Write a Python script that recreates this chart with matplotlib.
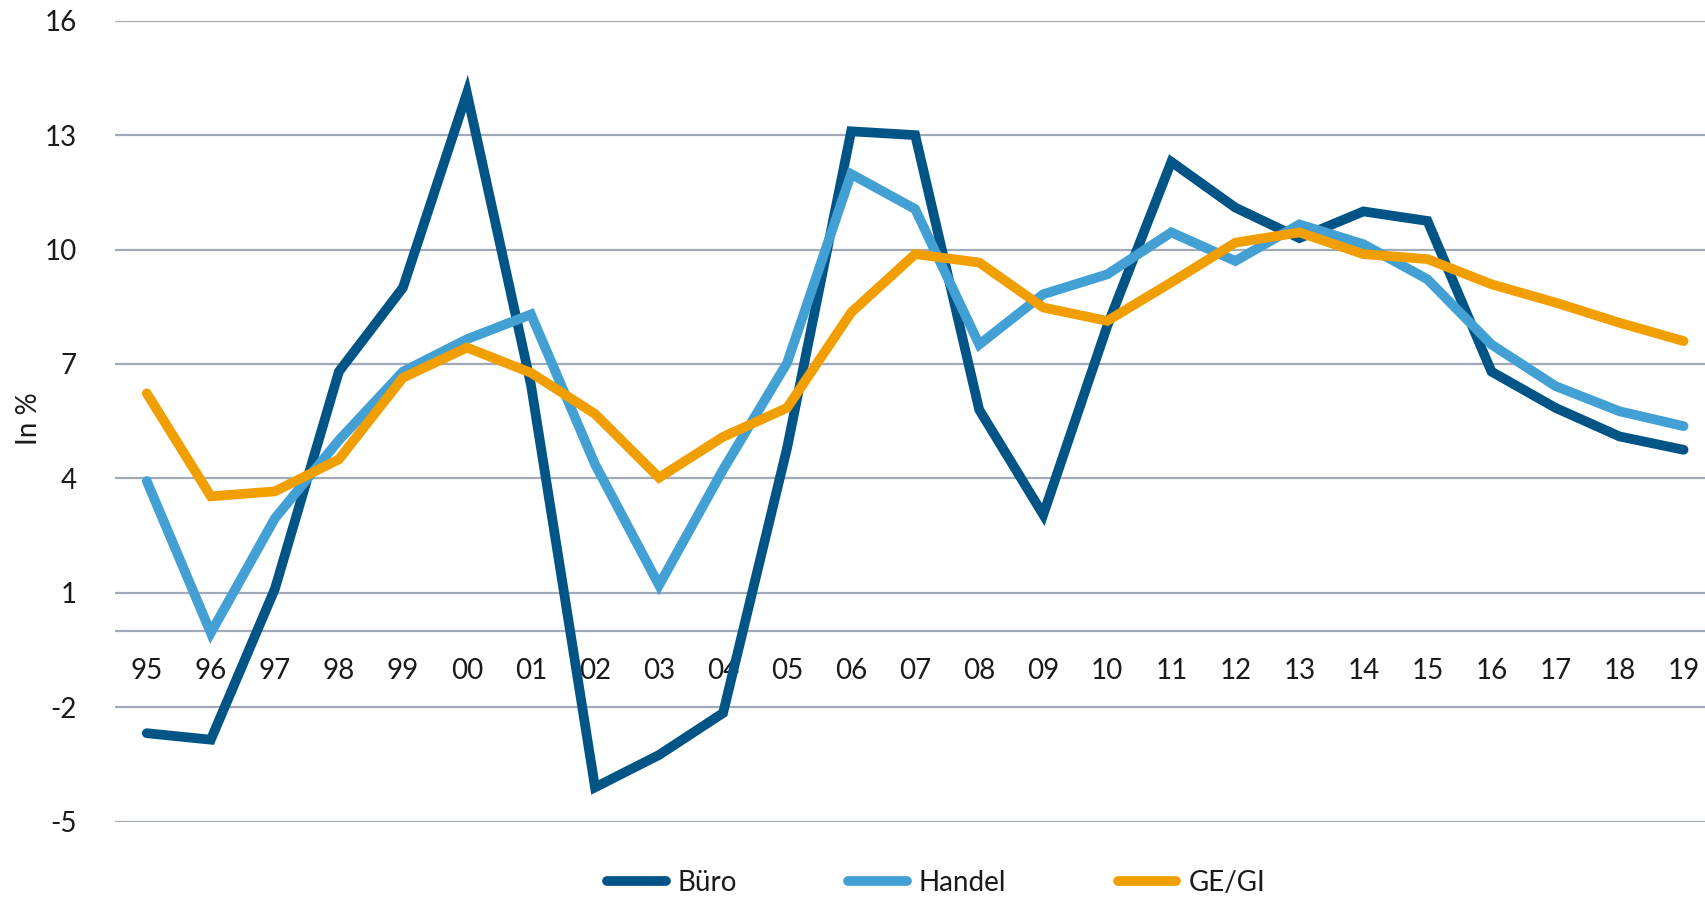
import matplotlib
matplotlib.use("Agg")
import matplotlib.pyplot as plt

years = ["95", "96", "97", "98", "99", "00", "01", "02", "03", "04", "05", "06",
         "07", "08", "09", "10", "11", "12", "13", "14", "15", "16", "17", "18", "19"]
buero = [-2.68, -2.85, 1.1, 6.8, 9.0, 14.1, 6.45, -4.1, -3.25, -2.15, 4.8, 13.1,
         13.0, 5.8, 3.05, 8.0, 12.3, 11.1, 10.3, 11.0, 10.75, 6.8, 5.85, 5.1, 4.75]
handel = [3.93, -0.05, 2.95, 5.0, 6.8, 7.65, 8.3, 4.37, 1.2, 4.23, 7.03, 11.98,
          11.06, 7.51, 8.83, 9.35, 10.45, 9.7, 10.66, 10.14, 9.22, 7.51, 6.42, 5.76, 5.37]
gegi = [6.23, 3.53, 3.66, 4.5, 6.64, 7.43, 6.77, 5.69, 4.02, 5.09, 5.85, 8.35,
        9.88, 9.66, 8.48, 8.13, 9.14, 10.18, 10.45, 9.88, 9.75, 9.09, 8.61, 8.08, 7.6]
series_names = ["Büro", "Handel", "GE/GI"]
y_ticks = [-5, -2, 1, 4, 7, 10, 13, 16]
grid_levels = [-5, -2, 0, 1, 4, 7, 10, 13, 16]

colors = ["#005486", "#42a0d4", "#f09e00"]
plt.rcParams['font.family'] = ['Lato', 'DejaVu Sans']

fig = plt.figure(figsize=(17.06, 8.99), dpi=100)
ax = fig.add_axes([115.4 / 1706, 77.3 / 899, 1 - 115.4 / 1706, (821.7 - 20.7) / 899])

x = list(range(len(years)))
for g in grid_levels:
    ax.axhline(g, color="#a2aab9", lw=1.6, zorder=1)

for vals, name, c in zip([buero, handel, gegi], series_names, colors):
    ax.plot(x, vals, color=c, lw=7, label=name, solid_capstyle="round",
            solid_joinstyle="miter", zorder=3, clip_on=False)

ax.set_xlim(-0.49, 24.35)
ax.set_ylim(-5, 16)
ax.set_yticks(y_ticks)
ax.set_yticklabels([str(t) for t in y_ticks], fontsize=20, color="#1a1a1a")
ax.tick_params(axis="y", length=0, pad=28)
ax.set_xticks([])
for xi, lab in zip(x, years):
    ax.text(xi, -1.05, lab, ha="center", va="center", fontsize=20, color="#1a1a1a", zorder=2)

for s in ax.spines.values():
    s.set_visible(False)

fig.text(29 / 1706, 1 - 419 / 899, "In %", rotation=90, ha="center", va="center",
         fontsize=20, color="#1a1a1a")

leg = fig.legend(loc="center", bbox_to_anchor=(936 / 1706, 1 - 883 / 899), ncol=3,
                 frameon=False, fontsize=20, handlelength=2.12, handletextpad=0.43,
                 columnspacing=4.0, labelcolor="#1a1a1a")
for h in leg.get_lines():
    h.set_linewidth(7)
    h.set_solid_capstyle("round")

fig.savefig("out.png", dpi=100)
